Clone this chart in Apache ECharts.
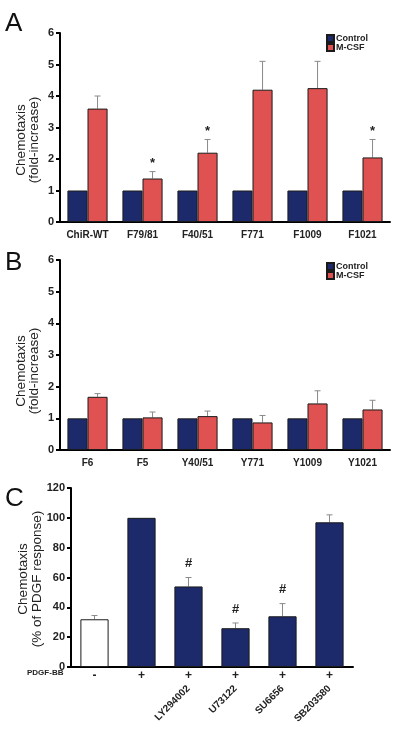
<!DOCTYPE html>
<html><head><meta charset="utf-8">
<script src="https://cdn.jsdelivr.net/npm/echarts@6/dist/echarts.min.js"></script>
<style>html,body{margin:0;padding:0;background:#fff}#c{width:400px;height:736px}</style>
</head><body><div id="c"></div>
<script>
// Panel A
const catsA = ['ChiR-WT','F79/81','F40/51','F771','F1009','F1021'];
const ctrlA = [1,1,1,1,1,1];
const mcsfA = [3.6,1.38,2.2,4.2,4.25,2.05];
const errTopA = [4.0,1.6,2.62,5.1,5.1,2.62];
const sigA = ['','*','*','','','*'];
// Panel B
const catsB = ['F6','F5','Y40/51','Y771','Y1009','Y1021'];
const ctrlB = [1,1,1,1,1,1];
const mcsfB = [1.68,1.03,1.07,0.87,1.47,1.28];
const errTopB = [1.78,1.2,1.23,1.09,1.87,1.57];
const sigB = ['','','','','',''];
// Panel C
const signsC = ['-','+','+','+','+','+'];
const namesC = ['','','LY294002','U73122','SU6656','SB203580'];
const valsC = [32,100,54,26,34,97];
const errTopC = [34.5,100,60,29.5,42.5,102];
const sigC = ['','','#','#','#',''];
const yTitleAB = 'Chemotaxis\n(fold-increase)';
const yTitleC = 'Chemotaxis\n(% of PDGF response)';

const FONT = 'Liberation Sans, Arial, sans-serif';
const NAVY = '#1c2a6b', RED = '#e05252', EDGE = '#1a1a1a';

function errSeries(xi, yi, cats, vals, tops, sig, offFrac, sigGap) {
  return {
    type: 'custom', xAxisIndex: xi, yAxisIndex: yi, z: 1, silent: true,
    data: cats.map((c, i) => [i, vals[i], tops[i]]),
    renderItem: function (params, api) {
      const i = api.value(0), v = api.value(1), t = api.value(2);
      const bandW = api.size([1, 0])[0];
      const p0 = api.coord([i, v]), p1 = api.coord([i, t]);
      const x = p0[0] + offFrac * bandW;
      const children = [];
      if (t > v) {
        children.push({type: 'line', shape: {x1: x, y1: p0[1], x2: x, y2: p1[1]}, style: {stroke: '#8a8a8a', lineWidth: 1}});
        children.push({type: 'line', shape: {x1: x - 3, y1: p1[1], x2: x + 3, y2: p1[1]}, style: {stroke: '#8a8a8a', lineWidth: 1}});
      }
      const s = sig[params.dataIndex];
      if (s) {
        children.push({type: 'text', style: {text: s, x: x, y: p1[1] - sigGap, align: 'center', verticalAlign: 'middle', font: 'bold 13px ' + FONT, fill: '#222'}});
      }
      return {type: 'group', children: children};
    }
  };
}

function yAxisCfg(gi, maxV, interval) {
  return {
    type: 'value', gridIndex: gi, min: 0, max: maxV, interval: interval,
    splitLine: {show: false},
    axisLine: {show: true, lineStyle: {color: '#000', width: 2}},
    axisTick: {show: true, length: 4, lineStyle: {color: '#000', width: 2}},
    axisLabel: {color: '#222', fontWeight: 'bold', fontSize: 11, fontFamily: FONT, margin: 6}
  };
}
function xAxisCfg(gi, cats) {
  return {
    type: 'category', gridIndex: gi, data: cats,
    axisLine: {show: true, lineStyle: {color: '#000', width: 2}},
    axisTick: {show: false},
    axisLabel: {color: '#222', fontWeight: 'bold', fontSize: 10, fontFamily: FONT, margin: 8, interval: 0}
  };
}
const barStyle = (c) => ({color: c, borderColor: EDGE, borderWidth: 1});
const legendText = {fontSize: 9, fontWeight: 'bold', color: '#222', fontFamily: FONT, padding: [0, 0, 0, -3]};
function yTitle(text, x, y, lh) {
  return {type: 'text', x: x, y: y, rotation: Math.PI / 2,
    style: {text: text, align: 'center', verticalAlign: 'middle', font: '13.5px ' + FONT, lineHeight: lh, fill: '#222'}};
}

const chart = echarts.init(document.getElementById('c'), null, {renderer: 'canvas'});
chart.setOption({
  animation: false,
  textStyle: {fontFamily: FONT},
  grid: [
    {left: 60, top: 33, width: 330, height: 189},
    {left: 60, top: 260, width: 330, height: 190},
    {left: 71, top: 488, width: 282, height: 179}
  ],
  xAxis: [
    xAxisCfg(0, catsA),
    xAxisCfg(1, catsB),
    Object.assign(xAxisCfg(2, signsC), {axisLabel: {color: '#222', fontWeight: 'bold', fontSize: 12, fontFamily: FONT, margin: 3, interval: 0}}),
    {type: 'category', gridIndex: 2, data: namesC, position: 'bottom', offset: 16,
     axisLine: {show: false}, axisTick: {show: false},
     axisLabel: {rotate: 45, color: '#222', fontWeight: 'bold', fontSize: 10, fontFamily: FONT, interval: 0, margin: 4}}
  ],
  yAxis: [
    yAxisCfg(0, 6, 1),
    yAxisCfg(1, 6, 1),
    yAxisCfg(2, 120, 20)
  ],
  legend: [
    {data: ['Control', 'M-CSF'], orient: 'vertical', left: 326, top: 34, padding: 0, itemWidth: 7, itemHeight: 7, itemGap: 0, icon: 'rect', textStyle: legendText},
    {data: ['Control ', 'M-CSF '], orient: 'vertical', left: 326, top: 262, padding: 0, itemWidth: 7, itemHeight: 7, itemGap: 0, icon: 'rect', textStyle: legendText}
  ],
  series: [
    {name: 'Control', type: 'bar', xAxisIndex: 0, yAxisIndex: 0, data: ctrlA, itemStyle: barStyle(NAVY), barGap: '0%', barCategoryGap: '27%'},
    {name: 'M-CSF', type: 'bar', xAxisIndex: 0, yAxisIndex: 0, data: mcsfA, itemStyle: barStyle(RED), barGap: '0%', barCategoryGap: '27%'},
    errSeries(0, 0, catsA, mcsfA, errTopA, sigA, 0.1825, 8),
    {name: 'Control ', type: 'bar', xAxisIndex: 1, yAxisIndex: 1, data: ctrlB, itemStyle: barStyle(NAVY), barGap: '0%', barCategoryGap: '27%'},
    {name: 'M-CSF ', type: 'bar', xAxisIndex: 1, yAxisIndex: 1, data: mcsfB, itemStyle: barStyle(RED), barGap: '0%', barCategoryGap: '27%'},
    errSeries(1, 1, catsB, mcsfB, errTopB, sigB, 0.1825, 8),
    {name: 'PDGF', type: 'bar', xAxisIndex: 2, yAxisIndex: 2, barCategoryGap: '40%',
     data: valsC.map((v, i) => ({value: v, itemStyle: barStyle(i === 0 ? '#ffffff' : NAVY)}))},
    errSeries(2, 2, signsC, valsC, errTopC, sigC, 0, 14)
  ],
  graphic: [
    {type: 'text', left: 5, top: 11, style: {text: 'A', font: '26px ' + FONT, fill: '#111'}},
    {type: 'text', left: 5, top: 250, style: {text: 'B', font: '26px ' + FONT, fill: '#111'}},
    {type: 'text', left: 5, top: 486, style: {text: 'C', font: '26px ' + FONT, fill: '#111'}},
    {type: 'text', left: 27, top: 669, style: {text: 'PDGF-BB', font: 'bold 8px ' + FONT, fill: '#222'}},
    yTitle(yTitleAB, 28, 140, 13),
    yTitle(yTitleAB, 28, 371, 13),
    yTitle(yTitleC, 30, 579, 14)
  ]
});
</script></body></html>
